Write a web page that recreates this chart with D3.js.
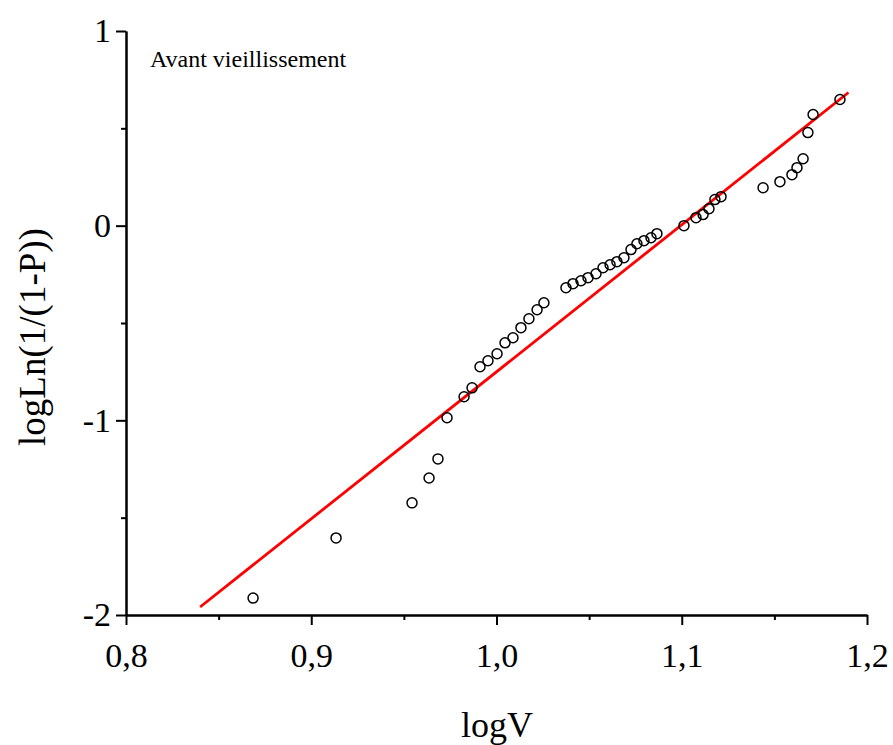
<!DOCTYPE html>
<html>
<head>
<meta charset="utf-8">
<script src="https://cdn.jsdelivr.net/npm/d3@7"></script>
<style>
  body { margin: 0; background: #fff; }
  svg { display: block; }
</style>
</head>
<body>
<svg id="chart"></svg>
<script>
// data
const logV = [0.8686, 0.9134, 0.9544, 0.9636, 0.9684, 0.9733, 0.9825, 0.9868, 0.9911, 0.9954,
  1.0003, 1.0046, 1.0089, 1.0132, 1.0175, 1.0219, 1.0256, 1.0375, 1.0413, 1.0456,
  1.0494, 1.0537, 1.0575, 1.0613, 1.0650, 1.0688, 1.0726, 1.0758, 1.0796, 1.0834,
  1.0866, 1.1012, 1.1077, 1.1115, 1.1147, 1.1179, 1.1212, 1.1439, 1.1530, 1.1595,
  1.1622, 1.1655, 1.1681, 1.1709, 1.1854];
const logLn = [-1.913, -1.604, -1.424, -1.296, -1.198, -0.987, -0.879, -0.833, -0.725, -0.694,
  -0.658, -0.602, -0.576, -0.524, -0.478, -0.432, -0.396, -0.319, -0.298, -0.283,
  -0.267, -0.247, -0.216, -0.201, -0.185, -0.165, -0.123, -0.093, -0.077, -0.062,
  -0.041, 0.000, 0.041, 0.057, 0.087, 0.134, 0.149, 0.195, 0.226, 0.262,
  0.298, 0.344, 0.478, 0.571, 0.648];

// linear fit (end points)
const fitX = [0.840, 1.190];
const fitY = [-1.959, 0.684];

const xTicks = [0.8, 0.9, 1.0, 1.1, 1.2];
const xMinor = [0.85, 0.95, 1.05, 1.15];
const yTicks = [-2, -1, 0, 1];
const yMinor = [-1.5, -0.5, 0.5];

const W = 893, H = 745;
const svg = d3.select("#chart").attr("width", W).attr("height", H);

const x = d3.scaleLinear().domain([0.8, 1.2]).range([126, 867]);
const y = d3.scaleLinear().domain([-2, 1]).range([615, 31]);

const font = "'Liberation Serif', 'Times New Roman', serif";

// fit line
const line = d3.line().x(d => x(d[0])).y(d => y(d[1]));
svg.append("path")
    .datum(d3.zip(fitX, fitY))
    .attr("fill", "none")
    .attr("stroke", "#ff0000")
    .attr("stroke-width", 2.8)
    .attr("d", line);

// points
svg.selectAll(".pt")
    .data(d3.zip(logV, logLn))
    .enter()
    .append("circle")
    .attr("class", "pt")
    .attr("cx", d => x(d[0]))
    .attr("cy", d => y(d[1]))
    .attr("r", 5)
    .attr("fill", "none")
    .attr("stroke", "#000")
    .attr("stroke-width", 1.5);

// axes
function styleAxis(g) {
    g.select(".domain").attr("stroke", "#000").attr("stroke-width", 2);
    g.selectAll(".tick line").attr("stroke", "#000").attr("stroke-width", 2);
    g.selectAll("text")
        .attr("fill", "#000")
        .style("font-family", font)
        .style("font-size", "34px");
}

const fmt = d => d3.format(".1f")(d).replace(".", ",");

svg.append("g")
    .attr("transform", `translate(0,${y(-2)})`)
    .call(d3.axisBottom(x).tickValues(xMinor).tickSize(5).tickFormat("").tickSizeOuter(0))
    .call(styleAxis);

svg.append("g")
    .attr("transform", `translate(0,${y(-2)})`)
    .call(d3.axisBottom(x).tickValues(xTicks).tickSize(10).tickPadding(18).tickFormat(fmt).tickSizeOuter(0))
    .call(styleAxis);

svg.append("g")
    .attr("transform", `translate(${x(0.8)},0)`)
    .call(d3.axisLeft(y).tickValues(yMinor).tickSize(5).tickFormat("").tickSizeOuter(0))
    .call(styleAxis);

svg.append("g")
    .attr("transform", `translate(${x(0.8)},0)`)
    .call(d3.axisLeft(y).tickValues(yTicks).tickSize(10).tickPadding(5).tickFormat(d => String(d)).tickSizeOuter(0))
    .call(styleAxis);

// axis titles
svg.append("text")
    .attr("x", 497)
    .attr("y", 737)
    .attr("text-anchor", "middle")
    .style("font-family", font)
    .style("font-size", "36px")
    .text("logV");

svg.append("text")
    .attr("transform", "rotate(-90)")
    .attr("x", -337)
    .attr("y", 45)
    .attr("text-anchor", "middle")
    .style("font-family", font)
    .style("font-size", "37px")
    .text("logLn(1/(1-P))");

svg.append("text")
    .attr("x", 150)
    .attr("y", 67)
    .style("font-family", font)
    .style("font-size", "24px")
    .text("Avant vieillissement");
</script>
</body>
</html>
